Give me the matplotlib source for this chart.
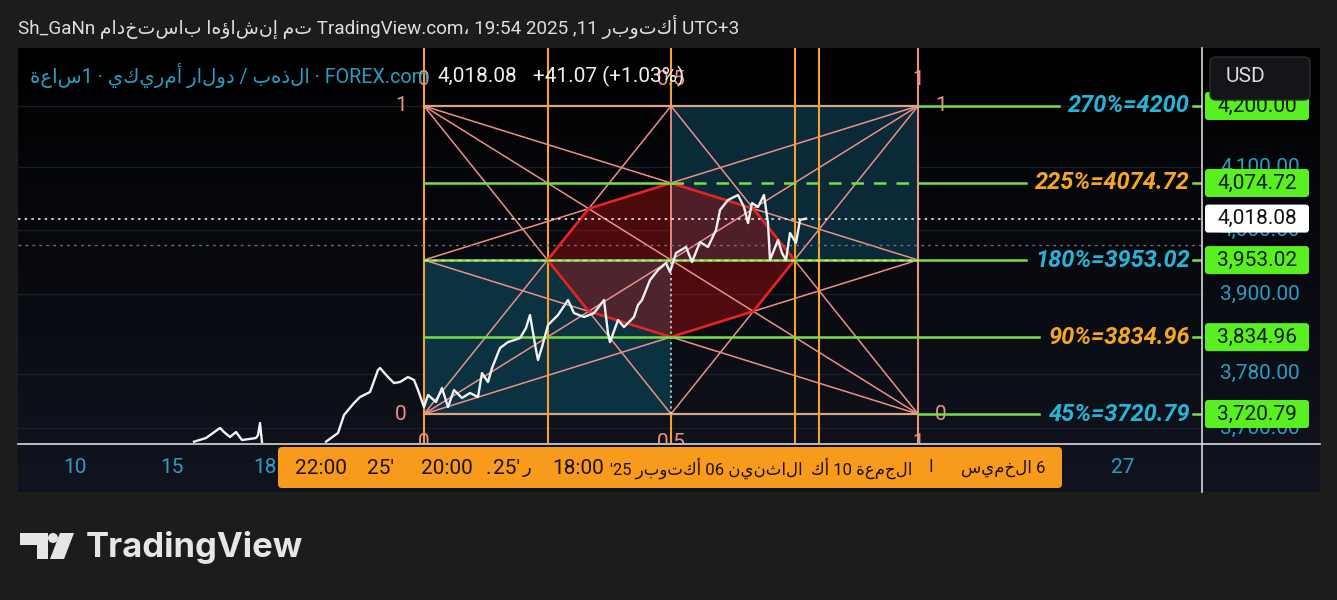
import numpy as np
import matplotlib
matplotlib.use("Agg")
import matplotlib.pyplot as plt
from matplotlib import transforms
from matplotlib.colors import LinearSegmentedColormap
from matplotlib.lines import Line2D
from matplotlib.patches import FancyBboxPatch, Polygon, Circle

plt.rcParams["font.family"] = ["Roboto", "DejaVu Sans"]

# XAUUSD 1h closes (bar index, price)
bars_a = [88, 94, 101, 103, 106, 109, 112, 119, 120, 121, 122]
close_a = [3680.5, 3685.8, 3700.4, 3694.5, 3687.3, 3694.5, 3682.9, 3685.8, 3690.0, 3707.6, 3679.5]

bars_b = [154, 160, 163, 168, 171, 176, 180, 181, 185, 188, 191, 195, 198, 200, 203,
          205, 209, 212, 215, 218, 222, 226, 230, 232, 235, 237, 241, 245, 251, 254,
          256, 259, 260, 262, 265, 270, 275, 278, 283, 288, 293, 295, 296, 300, 303,
          308, 310, 312, 316, 320, 324, 326, 329, 334, 337, 341, 345, 349, 351, 355,
          360, 363, 365, 367, 370, 373, 375, 376, 380, 382, 384, 386, 389, 391, 394]
close_b = [3680.5, 3693.1, 3719.3, 3736.9, 3745.7, 3753.1, 3785.7, 3788.7, 3775.3, 3766.4,
           3767.9, 3775.3, 3770.9, 3756.1, 3731.0,
           3748.7, 3738.4, 3759.0, 3731.0, 3756.1, 3744.3, 3751.7, 3745.7, 3781.3, 3767.9,
           3788.7, 3818.6, 3827.5, 3833.5, 3848.8,
           3868.5, 3815.6, 3800.7, 3820.1, 3853.3, 3868.5, 3891.4, 3871.5, 3865.5, 3871.5,
           3891.4, 3841.2, 3827.5, 3860.9, 3850.3,
           3865.5, 3883.8, 3891.4, 3922.1, 3937.6, 3948.4, 3934.5, 3964.0, 3973.4, 3950.0,
           3981.2, 3973.4, 4000.0, 4031.6, 4047.5,
           4055.5, 4036.4, 4011.0, 4042.7, 4036.4, 4055.5, 4011.0, 3953.1, 3984.3, 3964.0,
           3953.1, 3995.3, 3979.7, 4015.8, 4018.08]

last_price = 4018.08
change = 41.07
change_pct = 1.03

# gann box
box_start, box_end = 203, 450
box_low, box_high = 3720.79, 4200.0
level_fracs = [0, 0.25, 0.5, 0.75, 1]
level_pcts = ["45%", "90%", "180%", "225%", "270%"]
level_prices = [3720.79, 3834.96, 3953.02, 4074.72, 4200]

grid_prices = [4200, 4100, 4000, 3900, 3780, 3700]
axis_labels = [4200, 4100, 4000, 3900, 3780, 3700]
time_ticks = [28.5, 77, 123.5, 552.5]
time_labels = ["10", "15", "18", "27"]


def rtl(s):
    # lay out arabic runs right-to-left for matplotlib's LTR text engine
    toks = s.split(" ")
    toks = [t[::-1] if any("\u0600" <= c <= "\u06ff" for c in t) else t for t in toks]
    return " ".join(reversed(toks))


W, H = 1337, 600
fig = plt.figure(figsize=(W / 100, H / 100), dpi=100, facecolor="#1c1d1a")
px = transforms.IdentityTransform()


def rect(x0, y0, x1, y1):
    return [x0 / W, 1 - y1 / H, (x1 - x0) / W, (y1 - y0) / H]


bg = fig.add_axes(rect(18, 48, 1320, 492), zorder=-5)
grad = np.linspace(0, 1, 256).reshape(-1, 1)
bg.imshow(grad, aspect="auto", cmap=LinearSegmentedColormap.from_list("bg", ["#000000", "#111420"]))
bg.axis("off")

ax = fig.add_axes(rect(18, 48, 1202, 443))
ax.set_facecolor("none")
ax.set_yscale("log")
ax.set_xlim(0, 592)
ax.set_ylim(3678.6, 4296.9)
ax.axis("off")

pax = fig.add_axes(rect(1202, 48, 1320, 443), sharey=ax)
pax.set_facecolor("none")
pax.set_xlim(0, 1)
pax.axis("off")

for p in grid_prices:
    ax.axhline(p, color="#1a1e29", lw=1, zorder=0.5)


def lvl(f):
    return box_low * (box_high / box_low) ** f


def bx(f):
    return box_start + (box_end - box_start) * f


ax.fill_between([bx(0.5), bx(1)], lvl(0.5), lvl(1), color="#092a36", lw=0, zorder=1)
ax.fill_between([bx(0), bx(0.5)], lvl(0), lvl(0.5), color="#0a3241", lw=0, zorder=1)

octagon = [(0.5, 0.75), (2 / 3, 2 / 3), (0.75, 0.5), (2 / 3, 1 / 3),
           (0.5, 0.25), (1 / 3, 1 / 3), (0.25, 0.5), (1 / 3, 2 / 3)]
ax.add_patch(Polygon([(bx(a), lvl(b)) for a, b in octagon], closed=True,
                     fc=(0.75, 0.06, 0.06, 0.38), ec="none", zorder=2))

TL, TR, BL, BR = (0, 1), (1, 1), (0, 0), (1, 0)
TM, BM, LM, RM = (0.5, 1), (0.5, 0), (0, 0.5), (1, 0.5)
fan = [(TL, BR), (TR, BL), (TL, BM), (TL, RM), (TR, BM), (TR, LM),
       (BL, TM), (BL, RM), (BR, TM), (BR, LM)]
salmon = "#ee8f87"
for a, b in fan:
    ax.plot([bx(a[0]), bx(b[0])], [lvl(a[1]), lvl(b[1])], color=salmon, lw=1.1, zorder=3)

ax.add_patch(Polygon([(bx(a), lvl(b)) for a, b in octagon], closed=True,
                     fc="none", ec="#e62222", lw=1.9, zorder=3.5))

for f in (0, 1):
    ax.plot([bx(0), bx(1)], [lvl(f)] * 2, color="#dba582", lw=1.6, zorder=3)

orange = "#f5a030"
ymin, ymax = ax.get_ylim()
for f in (0, 0.25, 0.75, 0.8):
    ax.axvline(bx(f), color=orange, lw=1.5, zorder=3)
ax.axvline(bx(1), color=salmon, lw=1.5, zorder=3)
ax.plot([bx(0.5)] * 2, [box_high, ymax], color=orange, lw=1.5, zorder=3)
ax.plot([bx(0.5)] * 2, [ymin, box_low], color=orange, lw=1.5, zorder=3)
ax.plot([bx(0.5)] * 2, [lvl(0.5), box_high], color=salmon, lw=1.3, zorder=3)
ax.plot([bx(0.5)] * 2, [box_low, lvl(0.5)], color="#e0e0e0", lw=1.1, ls=(0, (1.5, 2)), zorder=3)

# price
ax.plot(bars_a, close_a, color="#f2f2f2", lw=1.7, zorder=5)
ax.plot(bars_b, close_b, color="#f2f2f2", lw=1.7, zorder=5)
ax.axhline(last_price, color="#e8e8e8", lw=1.2, ls=(0, (1.5, 2.5)), zorder=4)
ax.axhline(last_price - change, color="#6c7080", lw=1, ls=(0, (2, 3)), zorder=4)

# box labels
for f, lab in zip((0, 0.5, 1), ("0", "0.5", "1")):
    ax.annotate(lab, (bx(f), box_high), xytext=(0, 26), textcoords="offset pixels",
                ha="center", va="center", color=salmon, fontsize=15, annotation_clip=False)
    ax.annotate(lab, (bx(f), box_low), xytext=(0, -28), textcoords="offset pixels",
                ha="center", va="center", color=salmon, fontsize=15, clip_on=True)
for f, lab in ((1, "1"), (0, "0")):
    ax.annotate(lab, (bx(0), lvl(f)), xytext=(-23, 0), textcoords="offset pixels",
                ha="center", va="center", color=salmon, fontsize=15)
    ax.annotate(lab, (bx(1), lvl(f)), xytext=(23, 0), textcoords="offset pixels",
                ha="center", va="center", color=salmon, fontsize=15)

# level labels and green lines
cyan, gold = "#27b4d6", "#f5a623"
green = "#7ade48"
texts = []
for i, (p, pct) in enumerate(zip(level_prices, level_pcts)):
    texts.append(ax.text(586, p, f"{pct}={p:g}", ha="right", va="center", fontsize=17,
                         fontweight="bold", fontstyle="italic",
                         color=cyan if i % 2 == 0 else gold, zorder=6))
fig.canvas.draw()
rend = fig.canvas.get_renderer()
inv = ax.transData.inverted()
for f, p, t in zip(level_fracs, level_prices, texts):
    bb = t.get_window_extent(rend)
    xl = inv.transform((bb.x0 - 9, 0))[0]
    xr = inv.transform((bb.x1 + 3, 0))[0]
    start = bx(1) if f in (0, 1) else bx(0)
    if f == 0.75:
        ax.plot([bx(0), bx(0.5)], [p, p], color=green, lw=1.8, zorder=4)
        ax.plot([bx(0.5), bx(1)], [p, p], color=green, lw=1.8, ls=(0, (5, 4)), zorder=4)
        start = bx(1)
    ax.plot([start, xl], [p, p], color=green, lw=1.8, zorder=4)
    ax.plot([xr, 592], [p, p], color=green, lw=1.8, zorder=4)
ax.plot([bx(0), bx(1)], [lvl(0.5)] * 2, color="#ece0a0", lw=1, ls=(0, (3, 3)), zorder=4)

# price scale
for p in axis_labels:
    pax.text(0.49, p, f"{p:,.2f}", ha="center", va="center", color="#2d9cc0", fontsize=15)


def badge(p, fc, tc):
    yd = ax.transData.transform((0, p))[1]
    fig.add_artist(FancyBboxPatch((1205, yd - 14), 104, 28, boxstyle="round,pad=0,rounding_size=3",
                                  fc=fc, ec="none", transform=px, zorder=5))
    fig.text(1257 / W, yd / H, f"{p:,.2f}", ha="center", va="center", color=tc, fontsize=15, zorder=6)


for p in level_prices:
    badge(p, "#58f020", "#0e1a08")
badge(last_price, "#ffffff", "#111111")

fig.add_artist(FancyBboxPatch((1210, H - 100), 100, 43, boxstyle="round,pad=0,rounding_size=6",
                              fc="#131519", ec="#2a2d35", lw=1, transform=px, zorder=8))
fig.text(1226 / W, 1 - 77 / H, "USD", ha="left", va="center", color="#dcdcdc", fontsize=15, zorder=9)

# frame lines
fig.add_artist(Line2D([18, 1320], [H - 444, H - 444], color="#d8d8d8", lw=1.2, transform=px, zorder=7))
fig.add_artist(Line2D([1202, 1202], [H - 48, H - 492], color="#d8d8d8", lw=1.2, transform=px, zorder=7))

# time axis
tx = transforms.blended_transform_factory(ax.transData, ax.transAxes)
for t, lab in zip(time_ticks, time_labels):
    ax.text(t, -0.063, lab, transform=tx, ha="center", va="center", color="#2d9cc0", fontsize=15)

fig.add_artist(FancyBboxPatch((278, H - 488), 784, 41, boxstyle="round,pad=0,rounding_size=4",
                              fc="#f89b1d", ec="none", transform=px, zorder=7))
crosshair = [("22:00", 321, 15), ("25'", 381, 15), ("20:00", 447, 15), (".", 488, 15),
             ("25'", 507, 15), ("ر", 527, 13), ("18:00", 578, 15),
             (rtl("الاثنين 06 أكتوبر '25"), 706, 12), (rtl("الجمعة 10 أك"), 862, 12),
             ("ا", 931, 12), (rtl("6 الخميس"), 1003, 12)]
for s, x, fs in crosshair:
    fig.text(x / W, 1 - 468 / H, s, ha="center", va="center", color="#1a1306", fontsize=fs, zorder=8)

# headers
header = ("Sh_GaNn " + rtl("تم إنشاؤها باستخدام") + " TradingView.com، 19:54 2025 ,11 "
          + rtl("أكتوبر") + " UTC+3")
fig.text(18 / W, 1 - 27 / H, header, ha="left", va="center", color="#dedede", fontsize=13.6)
fig.text(30 / W, 1 - 76 / H, rtl("الذهب / دولار أمريكي · 1ساعة") + " · FOREX.com",
         ha="left", va="center", color="#2b9cc0", fontsize=14.2)
fig.text(437 / W, 1 - 76 / H, f"{last_price:,.2f}", ha="left", va="center", color="#f0f0f0", fontsize=15)
fig.text(533 / W, 1 - 76 / H, f"+{change:.2f} (+{change_pct:.2f}%)", ha="left", va="center",
         color="#f0f0f0", fontsize=15)

# logo
logo = "#e6e6e6"
fig.add_artist(Polygon([(20, H - 533), (48, H - 533), (48, H - 559), (37, H - 559), (37, H - 545),
                        (20, H - 545)], fc=logo, ec="none", transform=px))
fig.add_artist(Circle((53, H - 538), 5, fc=logo, ec="none", transform=px))
fig.add_artist(Polygon([(60, H - 533), (74, H - 533), (64, H - 559), (50, H - 559)],
                       fc=logo, ec="none", transform=px))
fig.text(86 / W, 1 - 547 / H, "TradingView", ha="left", va="center", color=logo, fontsize=25,
         fontweight="bold", family="Inter")

fig.savefig("out.png", dpi=100, facecolor=fig.get_facecolor())
